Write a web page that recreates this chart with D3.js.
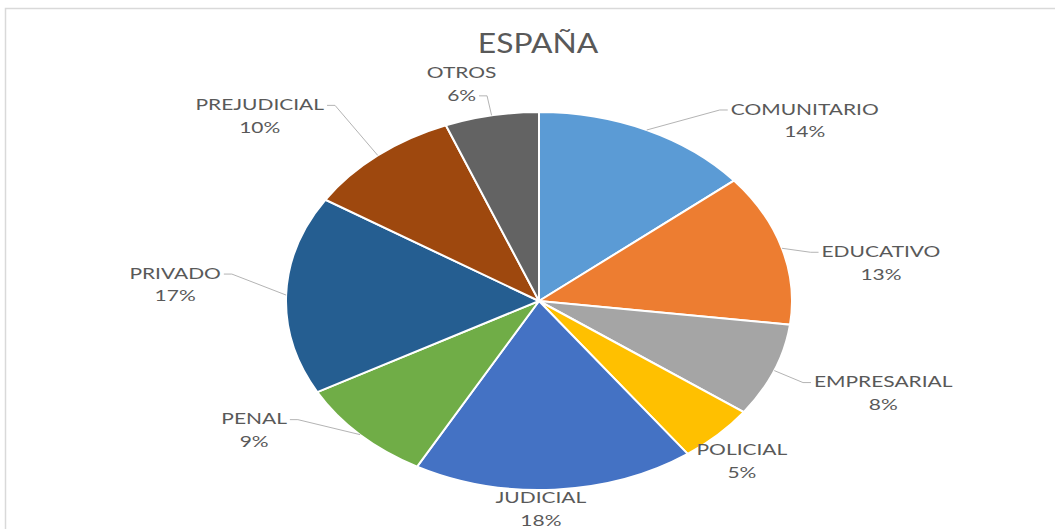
<!DOCTYPE html>
<html>
<head>
<meta charset="utf-8">
<script src="https://cdn.jsdelivr.net/npm/d3@7"></script>
<style>
  html, body { margin: 0; padding: 0; background: #fff; }
  svg { display: block; }
</style>
</head>
<body>
<svg id="chart" width="1055" height="529"></svg>
<script>
// ---- data ----
const title = "ESPAÑA";
const categories = ["COMUNITARIO", "EDUCATIVO", "EMPRESARIAL", "POLICIAL", "JUDICIAL", "PENAL", "PRIVADO", "PREJUDICIAL", "OTROS"];
const values = [14, 13, 8, 5, 18, 9, 17, 10, 6];
const percentLabels = ["14%", "13%", "8%", "5%", "18%", "9%", "17%", "10%", "6%"];

// ---- styling / layout ----
const palette = ["#5B9BD5", "#ED7D31", "#A5A5A5", "#FFC000", "#4472C4", "#70AD47", "#255E91", "#9E480E", "#636363"];
// label block shift from slice's outer mid-angle point [dx, dy] (first line centre)
const labelShift = [[158, -21], [99, 3], [109, 11], [24, 15], [-14, 8], [-106, -16], [-111, -22], [-118, -51], [-30, -43]];
// which text line the leader attaches to (null = no leader)
const leaderLine = [0, 0, 0, null, null, 0, 0, 0, 1];

const W = 1055, H = 529;
const cx = 539, cy = 301, rx = 253, ry = 189;
const sx = rx / ry;
const textSX = 1.31;
const fontFamily = "Lato, 'Open Sans', sans-serif";
const labelSize = 16, lineGap = 22.5;
const textColor = "#595959";

const svg = d3.select("#chart");

svg.append("rect").attr("x", 0).attr("y", 0).attr("width", W).attr("height", H).attr("fill", "#fff");
svg.append("rect").attr("x", 5.5).attr("y", 8.5).attr("width", W + 20).attr("height", H + 20)
  .attr("fill", "none").attr("stroke", "#d9d9d9").attr("stroke-width", 1.5);

// title
svg.append("text")
  .attr("transform", `translate(538,53) scale(1.2,1)`)
  .attr("text-anchor", "middle")
  .attr("font-family", fontFamily)
  .attr("font-size", 26.5)
  .attr("fill", textColor)
  .text(title);

const pie = d3.pie().value(d => d).sort(null);
const arcs = pie(values);
const arc = d3.arc().innerRadius(0).outerRadius(ry);

const gPie = svg.append("g").attr("transform", `translate(${cx},${cy}) scale(${sx},1)`);
gPie.selectAll("path").data(arcs).join("path")
  .attr("d", arc)
  .attr("fill", (d, i) => palette[i])
  .attr("stroke", "#fff")
  .attr("stroke-width", 2)
  .attr("vector-effect", "non-scaling-stroke");

// labels
const gLab = svg.append("g");
arcs.forEach((a, i) => {
  const mid = (a.startAngle + a.endAngle) / 2;
  const ax = cx + rx * Math.sin(mid);
  const ay = cy - ry * Math.cos(mid);
  const lx = ax + labelShift[i][0];
  const ly = ay + labelShift[i][1];
  const lines = [categories[i], percentLabels[i]];
  const widths = [];
  lines.forEach((t, k) => {
    const tx = gLab.append("text")
      .attr("transform", `translate(${lx},${ly + k * lineGap + labelSize * 0.36}) scale(${textSX},1)`)
      .attr("text-anchor", "middle")
      .attr("font-family", fontFamily)
      .attr("font-size", labelSize)
      .attr("fill", textColor)
      .text(t);
    widths.push(tx.node().getComputedTextLength() * textSX);
  });
  const li = leaderLine[i];
  if (li !== null) {
    const yL = ly + li * lineGap + 1;
    const right = ax > lx;
    const ex = right ? lx + widths[li] / 2 + 3 : lx - widths[li] / 2 - 3;
    const kx = right ? ex + 8 : ex - 8;
    gLab.insert("path", ":first-child")
      .attr("d", `M${ex},${yL} L${kx},${yL} L${ax},${ay}`)
      .attr("fill", "none")
      .attr("stroke", "#b4b4b4")
      .attr("stroke-width", 1);
  }
});
</script>
</body>
</html>
